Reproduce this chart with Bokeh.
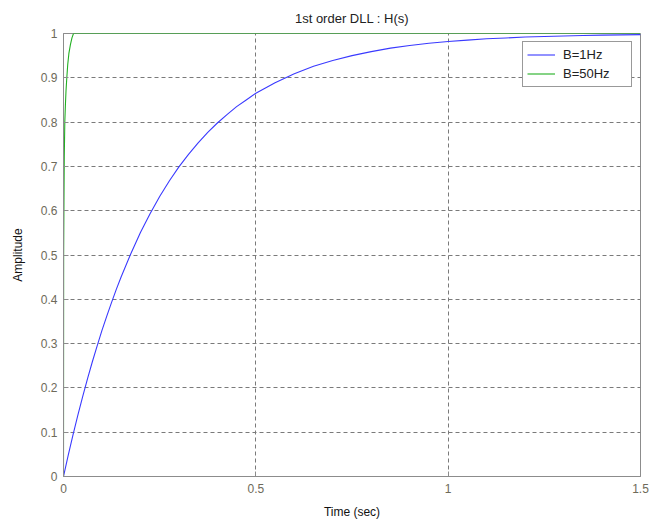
from bokeh.plotting import figure
from bokeh.models import Range1d, FixedTicker, Legend, LegendItem
from bokeh.embed import file_html
from bokeh.resources import INLINE

# Step response
t_b1 = [0, 0.0125, 0.025, 0.0375, 0.05, 0.0625, 0.075, 0.0875, 0.1, 0.1125, 0.125, 0.1375, 0.15,
        0.175, 0.2, 0.225, 0.25, 0.275, 0.3, 0.325, 0.35, 0.375, 0.4, 0.425, 0.45, 0.475, 0.5,
        0.55, 0.6, 0.65, 0.7, 0.75, 0.8, 0.85, 0.9, 0.95, 1.0, 1.05, 1.1, 1.15, 1.2,
        1.25, 1.3, 1.35, 1.4, 1.45, 1.5]
y_b1 = [0, 0.049, 0.095, 0.139, 0.181, 0.221, 0.259, 0.295, 0.33, 0.362, 0.393, 0.423, 0.451,
        0.503, 0.551, 0.593, 0.632, 0.667, 0.699, 0.727, 0.753, 0.777, 0.798, 0.817, 0.835, 0.850, 0.865,
        0.889, 0.909, 0.926, 0.939, 0.950, 0.959, 0.967, 0.973, 0.978, 0.982, 0.985, 0.988, 0.990, 0.992,
        0.9933, 0.9945, 0.9955, 0.9963, 0.997, 0.9975]
t_b50 = [0, 0.0004, 0.0012, 0.002, 0.0034, 0.005, 0.0065, 0.0086, 0.011, 0.014, 0.018, 0.022, 0.026, 1.5]
y_b50 = [0, 0.5, 0.62, 0.72, 0.80, 0.84, 0.87, 0.90, 0.93, 0.955, 0.975, 0.99, 1.0, 1.0]

series_labels = ["B=1Hz", "B=50Hz"]
xticks = [0, 0.5, 1, 1.5]
xtick_labels = ["0", "0.5", "1", "1.5"]
yticks = [0, 0.1, 0.2, 0.3, 0.4, 0.5, 0.6, 0.7, 0.8, 0.9, 1]
ytick_labels = ["0", "0.1", "0.2", "0.3", "0.4", "0.5", "0.6", "0.7", "0.8", "0.9", "1"]

FONT = "Liberation Sans"
TICKCOL = "#6e6a5a"

p = figure(width=650, height=521, output_backend="svg", toolbar_location=None,
           x_range=Range1d(0, 1.5), y_range=Range1d(0, 1),
           min_border_left=63, min_border_right=10, min_border_top=33, min_border_bottom=45)

p.title.text = "1st order DLL : H(s)"
p.title.align = "center"
p.title.text_font = FONT
p.title.text_font_size = "13px"
p.title.text_font_style = "normal"
p.title.text_color = "#222222"
p.title.standoff = 15

p.outline_line_color = "#8c8c8c"
p.outline_line_width = 1

for ax, ticks, labels in ((p.xaxis[0], xticks, xtick_labels), (p.yaxis[0], yticks, ytick_labels)):
    ax.ticker = FixedTicker(ticks=ticks)
    ax.major_label_overrides = {tk: lb for tk, lb in zip(ticks, labels)}
    ax.major_tick_in = 5
    ax.major_tick_out = 0
    ax.minor_tick_line_color = None
    ax.axis_line_color = "#8c8c8c"
    ax.major_tick_line_color = "#8c8c8c"
    ax.major_label_text_font = FONT
    ax.major_label_text_font_size = "12px"
    ax.major_label_text_color = TICKCOL
    ax.axis_label_text_font = FONT
    ax.axis_label_text_font_size = "12px"
    ax.axis_label_text_font_style = "normal"
    ax.axis_label_text_color = "#111111"

p.xaxis.axis_label = "Time (sec)"
p.yaxis.axis_label = "Amplitude"
p.xaxis.major_label_standoff = 7
p.xaxis.axis_label_standoff = 9
p.yaxis.major_label_standoff = 6
p.yaxis.axis_label_standoff = 13

for g in (p.xgrid[0], p.ygrid[0]):
    g.grid_line_color = "#7a7a7a"
    g.grid_line_dash = "4 3"
    g.grid_line_width = 1

r1 = p.line(t_b1, y_b1, line_color="#3a3aff", line_width=1.1)
r2 = p.line(t_b50, y_b50, line_color="#22b022", line_width=1.1)

legend = Legend(items=[LegendItem(label=series_labels[0], renderers=[r1]),
                       LegendItem(label=series_labels[1], renderers=[r2])],
                location="top_right")
legend.label_text_font = FONT
legend.label_text_font_size = "13px"
legend.label_text_color = "#222222"
legend.border_line_color = "#333333"
legend.border_line_width = 1
legend.background_fill_color = "white"
legend.background_fill_alpha = 1
legend.margin = 8
legend.padding = 4
legend.spacing = 2
legend.label_height = 17
legend.glyph_height = 17
legend.glyph_width = 28
legend.label_width = 64
legend.label_standoff = 8
p.add_layout(legend)

open("out.html", "w").write(file_html(p, INLINE))
